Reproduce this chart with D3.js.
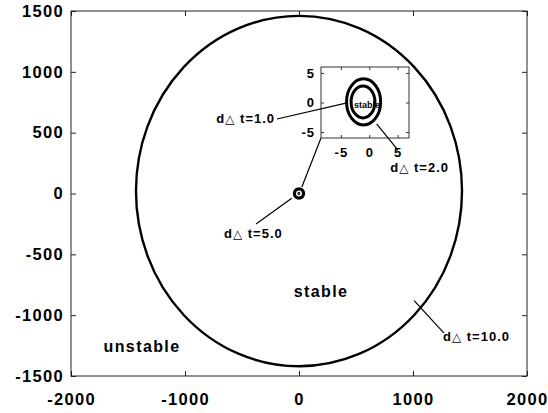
<!DOCTYPE html>
<html>
<head>
<meta charset="utf-8">
<script src="https://cdn.jsdelivr.net/npm/d3@7"></script>
<style>
	body { margin: 0; background: white; }
	text { font-family: "Liberation Sans", Arial, sans-serif; font-weight: bold; fill: black; }
</style>
</head>
<body>
<div id="divplot"></div>
<script>
// stability regions

const xTicks = [-2000, -1000, 0, 1000, 2000]
const yTicks = [-1500, -1000, -500, 0, 500, 1000, 1500]
const insetTicks = [-5, 0, 5]

// curves: dt=1, dt=2, dt=5, dt=10
const curveNames = ['d\u0394 t=1.0', 'd\u0394 t=2.0', 'd\u0394 t=5.0', 'd\u0394 t=10.0']
const curveCx = [-1.1, -1.0, 0, 0]
const curveCy = [0.1, 0.1, 0, 20]
const curveRx = [2.1, 3.0, 40, 1430]
const curveRy = [2.7, 3.9, 38, 1440]

// label anchors (main axes units) and leader lines
const labelX = [-210, 800, -658, 1263]
const labelY = [620, 212, -325, -1179]
const lineFromX = [-193, 868, -377, 1272]
const lineFromY = [612, 357, -251, -1147]
const lineToX = [-4.1, 1.3, -64, 1010]   // dt=1,2 ends are in inset units
const lineToY = [-0.1, -3.6, -39, -880]

const regionNames = ['stable', 'unstable']
const regionX = [193, -1377]
const regionY = [-801, -1253]

const plot = () => {
	let width = 548, height = 413
	let m = { left: 71, right: 527, top: 11, bottom: 376 }

	let x = d3.scaleLinear().domain([-2000, 2000]).range([m.left, m.right])
	let y = d3.scaleLinear().domain([-1500, 1500]).range([m.bottom, m.top])

	let svg = d3.select('#divplot')
		.append('svg')
		.attr('width', width)
		.attr('height', height)

	// frame + ticks
	svg.append('rect')
		.attr('x', m.left).attr('y', m.top)
		.attr('width', m.right - m.left).attr('height', m.bottom - m.top)
		.attr('fill', 'none').attr('stroke', '#222').attr('stroke-width', 1)

	let plain = d => String(d)

	let styleAxis = g => {
		g.select('.domain').remove()
		g.selectAll('line').attr('stroke', '#222')
		g.selectAll('text')
			.attr('font-size', '16.5px')
			.attr('font-family', '"Liberation Sans", Arial, sans-serif')
			.attr('font-weight', 'bold')
			.attr('letter-spacing', '1.3px')
	}

	svg.append('g').attr('transform', `translate(0,${m.bottom})`)
		.call(d3.axisBottom(x).tickValues(xTicks).tickSizeInner(-5).tickSizeOuter(0).tickPadding(17).tickFormat(plain))
		.call(styleAxis)
	svg.append('g').attr('transform', `translate(${m.left},0)`)
		.call(d3.axisLeft(y).tickValues(yTicks).tickSizeInner(-5).tickSizeOuter(0).tickPadding(7).tickFormat(plain))
		.call(styleAxis)
	svg.append('g').attr('transform', `translate(0,${m.top})`)
		.call(d3.axisTop(x).tickValues(xTicks).tickSizeInner(-5).tickSizeOuter(0).tickFormat(''))
		.call(styleAxis)
	svg.append('g').attr('transform', `translate(${m.right},0)`)
		.call(d3.axisRight(y).tickValues(yTicks).tickSizeInner(-5).tickSizeOuter(0).tickFormat(''))
		.call(styleAxis)

	// curves on main axes
	svg.selectAll('ellipse.main')
		.data(curveCx)
		.enter()
		.append('ellipse')
		.attr('class', 'main')
		.attr('cx', (d, i) => x(curveCx[i]))
		.attr('cy', (d, i) => y(curveCy[i]))
		.attr('rx', (d, i) => Math.max(x(curveRx[i]) - x(0), 0.3))
		.attr('ry', (d, i) => Math.max(y(0) - y(curveRy[i]), 0.3))
		.attr('fill', 'none')
		.attr('stroke', 'black')
		.attr('stroke-width', (d, i) => i == 3 ? 2.4 : (i == 2 ? 3.2 : 2))

	// region labels
	svg.selectAll('text.region')
		.data(regionNames)
		.enter()
		.append('text')
		.attr('class', 'region')
		.attr('x', (d, i) => x(regionX[i]))
		.attr('y', (d, i) => y(regionY[i]))
		.attr('dy', '0.35em')
		.attr('text-anchor', 'middle')
		.attr('font-size', '16px')
		.attr('letter-spacing', '1.4px')
		.text(d => d)

	// inset
	let ib = { left: 321, right: 409, top: 67, bottom: 138 }
	let xi = d3.scaleLinear().domain([-8.5, 7]).range([ib.left, ib.right])
	let yi = d3.scaleLinear().domain([-6, 6]).range([ib.bottom, ib.top])

	// connector from zoom spot to inset corner
	svg.append('line')
		.attr('x1', x(25)).attr('y1', y(53))
		.attr('x2', xi(-8.5)).attr('y2', yi(-6))
		.attr('stroke', 'black').attr('stroke-width', 1.2)

	let inset = svg.append('g')
	inset.append('rect')
		.attr('x', ib.left).attr('y', ib.top)
		.attr('width', ib.right - ib.left).attr('height', ib.bottom - ib.top)
		.attr('fill', 'white').attr('stroke', '#333').attr('stroke-width', 1)

	let styleInset = g => {
		g.select('.domain').remove()
		g.selectAll('line').attr('stroke', '#333')
		g.selectAll('text')
			.attr('font-size', '13px')
			.attr('font-family', '"Liberation Sans", Arial, sans-serif')
			.attr('font-weight', 'bold')
			.attr('letter-spacing', '1px')
	}
	inset.append('g').attr('transform', `translate(0,${ib.bottom})`)
		.call(d3.axisBottom(xi).tickValues(insetTicks).tickSizeInner(-3).tickSizeOuter(0).tickPadding(10).tickFormat(plain))
		.call(styleInset)
	inset.append('g').attr('transform', `translate(${ib.left},0)`)
		.call(d3.axisLeft(yi).tickValues(insetTicks).tickSizeInner(-3).tickSizeOuter(0).tickPadding(6).tickFormat(plain))
		.call(styleInset)
	inset.append('g').attr('transform', `translate(0,${ib.top})`)
		.call(d3.axisTop(xi).tickValues(insetTicks).tickSizeInner(-3).tickSizeOuter(0).tickFormat(''))
		.call(styleInset)
	inset.append('g').attr('transform', `translate(${ib.right},0)`)
		.call(d3.axisRight(yi).tickValues(insetTicks).tickSizeInner(-3).tickSizeOuter(0).tickFormat(''))
		.call(styleInset)

	inset.append('text')
		.attr('x', xi(-0.4)).attr('y', yi(-0.4))
		.attr('dy', '0.35em')
		.attr('text-anchor', 'middle')
		.attr('font-size', '9px')
		.attr('fill', '#222')
		.text(regionNames[0])

	inset.selectAll('ellipse')
		.data(curveCx.slice(0, 2))
		.enter()
		.append('ellipse')
		.attr('cx', (d, i) => xi(curveCx[i]))
		.attr('cy', (d, i) => yi(curveCy[i]))
		.attr('rx', (d, i) => xi(curveRx[i]) - xi(0))
		.attr('ry', (d, i) => yi(0) - yi(curveRy[i]))
		.attr('fill', 'none')
		.attr('stroke', 'black')
		.attr('stroke-width', 3)

	// leader lines and curve labels
	let fromPt = i => [x(lineFromX[i]), y(lineFromY[i])]
	let toPt = i => i < 2 ? [xi(lineToX[i]), yi(lineToY[i])] : [x(lineToX[i]), y(lineToY[i])]

	svg.selectAll('line.lead')
		.data(curveNames)
		.enter()
		.append('line')
		.attr('class', 'lead')
		.attr('x1', (d, i) => fromPt(i)[0])
		.attr('y1', (d, i) => fromPt(i)[1])
		.attr('x2', (d, i) => toPt(i)[0])
		.attr('y2', (d, i) => toPt(i)[1])
		.attr('stroke', 'black')
		.attr('stroke-width', 1.2)

	let lbl = svg.selectAll('text.curve')
		.data(curveNames)
		.enter()
		.append('text')
		.attr('class', 'curve')
		.attr('x', (d, i) => x(labelX[i]))
		.attr('y', (d, i) => y(labelY[i]))
		.attr('dy', '0.35em')
		.attr('text-anchor', (d, i) => i == 0 ? 'end' : 'start')
		.attr('font-size', '13px')
		.attr('letter-spacing', '1px')
	lbl.append('tspan').text('d')
	lbl.append('tspan').attr('font-weight', 'normal').attr('font-family', '"DejaVu Sans", sans-serif').attr('font-size', '12px').text('\u25B3')
	lbl.append('tspan').text(d => d.slice(2))
}

plot()
</script>
</body>
</html>
